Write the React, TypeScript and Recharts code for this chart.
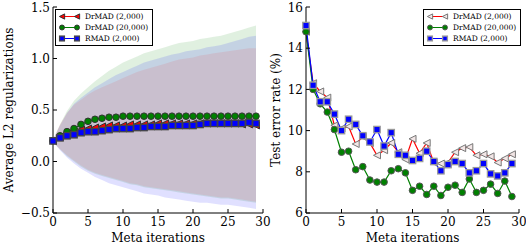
import { Area, ComposedChart, Legend, Line, XAxis, YAxis } from 'recharts'

const iterations = [0, 1, 2, 3, 4, 5, 6, 7, 8, 9, 10, 11, 12, 13, 14, 15, 16, 17, 18, 19, 20, 21, 22, 23, 24, 25, 26, 27, 28, 29]

const seriesNames = ['DrMAD (2,000)', 'DrMAD (20,000)', 'RMAD (2,000)']

// left panel: mean L2 regularization and its spread
const l2DrMad2k = [0.2, 0.24, 0.27, 0.29, 0.31, 0.32, 0.33, 0.34, 0.35, 0.35, 0.35, 0.36, 0.36, 0.36, 0.36, 0.37, 0.37, 0.37, 0.37, 0.37, 0.37, 0.37, 0.37, 0.37, 0.37, 0.37, 0.37, 0.36, 0.36, 0.35]
const l2DrMad2kLow = [0.19, 0.12, 0.06, 0.01, -0.04, -0.08, -0.11, -0.13, -0.15, -0.17, -0.19, -0.21, -0.22, -0.24, -0.25, -0.26, -0.27, -0.28, -0.29, -0.3, -0.31, -0.32, -0.33, -0.34, -0.35, -0.35, -0.36, -0.37, -0.38, -0.39]
const l2DrMad2kHigh = [0.21, 0.36, 0.47, 0.55, 0.6, 0.65, 0.69, 0.72, 0.75, 0.78, 0.81, 0.84, 0.87, 0.89, 0.91, 0.93, 0.95, 0.97, 0.99, 1.0, 1.01, 1.03, 1.04, 1.05, 1.06, 1.07, 1.08, 1.09, 1.1, 1.1]

const l2DrMad20k = [0.2, 0.25, 0.29, 0.32, 0.36, 0.39, 0.41, 0.42, 0.43, 0.43, 0.44, 0.44, 0.44, 0.44, 0.44, 0.44, 0.44, 0.44, 0.44, 0.44, 0.44, 0.44, 0.44, 0.44, 0.44, 0.44, 0.44, 0.44, 0.44, 0.44]
const l2DrMad20kLow = [0.19, 0.12, 0.05, 0.0, -0.05, -0.09, -0.12, -0.14, -0.16, -0.18, -0.2, -0.22, -0.23, -0.25, -0.26, -0.27, -0.28, -0.29, -0.3, -0.31, -0.32, -0.33, -0.34, -0.35, -0.36, -0.36, -0.37, -0.38, -0.39, -0.4]
const l2DrMad20kHigh = [0.21, 0.36, 0.49, 0.59, 0.66, 0.72, 0.78, 0.83, 0.88, 0.92, 0.96, 0.99, 1.02, 1.05, 1.07, 1.09, 1.11, 1.13, 1.15, 1.16, 1.17, 1.19, 1.2, 1.21, 1.22, 1.24, 1.26, 1.28, 1.3, 1.32]

const l2Rmad2k = [0.2, 0.23, 0.25, 0.26, 0.28, 0.29, 0.29, 0.3, 0.31, 0.32, 0.32, 0.32, 0.33, 0.33, 0.34, 0.34, 0.34, 0.35, 0.35, 0.35, 0.35, 0.36, 0.37, 0.37, 0.37, 0.37, 0.37, 0.37, 0.38, 0.37]
const l2Rmad2kLow = [0.19, 0.11, 0.04, -0.02, -0.07, -0.11, -0.15, -0.18, -0.21, -0.23, -0.25, -0.27, -0.29, -0.31, -0.32, -0.33, -0.35, -0.36, -0.37, -0.38, -0.39, -0.4, -0.4, -0.41, -0.42, -0.42, -0.43, -0.44, -0.45, -0.46]
const l2Rmad2kHigh = [0.21, 0.35, 0.47, 0.56, 0.62, 0.67, 0.72, 0.76, 0.8, 0.84, 0.87, 0.9, 0.93, 0.96, 0.98, 1.0, 1.02, 1.04, 1.05, 1.07, 1.08, 1.09, 1.11, 1.12, 1.13, 1.15, 1.17, 1.19, 1.21, 1.22]

// right panel: test error rate (%)
const errDrMad2k = [14.8, 12.3, 11.9, 11.6, 10.25, 10.1, 10.2, 9.35, 9.7, 9.4, 8.8, 9.05, 9.4, 8.95, 8.6, 9.6, 8.9, 9.4, 8.45, 8.4, 8.45, 8.95, 9.15, 9.2, 8.8, 8.85, 8.75, 8.45, 8.65, 8.85]
const errDrMad20k = [14.8, 12.0, 11.3, 10.9, 10.05, 8.95, 9.0, 8.1, 8.25, 7.6, 7.5, 7.5, 8.05, 8.15, 7.95, 7.1, 7.3, 6.9, 7.3, 6.85, 7.25, 7.35, 7.0, 7.65, 7.0, 7.1, 7.4, 6.95, 7.55, 6.8]
const errRmad2k = [15.1, 12.2, 11.4, 11.4, 10.8, 10.0, 10.55, 10.3, 9.75, 9.45, 10.05, 9.25, 9.9, 8.85, 8.8, 8.55, 8.65, 9.0, 8.5, 8.05, 8.35, 8.5, 8.4, 7.95, 8.05, 8.4, 7.9, 7.8, 7.95, 8.4]

const xTicks = [0, 5, 10, 15, 20, 25, 30]
const l2Ticks = [-0.5, 0, 0.5, 1.0, 1.5]
const errTicks = [6, 8, 10, 12, 14, 16]

const l2Data = iterations.map((it, i) => ({
  it,
  red: l2DrMad2k[i],
  redBand: [l2DrMad2kLow[i], l2DrMad2kHigh[i]],
  green: l2DrMad20k[i],
  greenBand: [l2DrMad20kLow[i], l2DrMad20kHigh[i]],
  blue: l2Rmad2k[i],
  blueBand: [l2Rmad2kLow[i], l2Rmad2kHigh[i]],
}))

const errData = iterations.map((it, i) => ({
  it,
  red: errDrMad2k[i],
  green: errDrMad20k[i],
  blue: errRmad2k[i],
}))

const FONT = 'DejaVu Serif, serif'
const tickStyle = { fill: '#000', fontSize: 12, fontFamily: FONT }

type Kind = 'tri' | 'circle' | 'square'

function Marker({
  cx,
  cy,
  kind,
  dark,
  scale = 1,
}: {
  cx: number
  cy: number
  kind: Kind
  dark?: boolean
  scale?: number
}) {
  if (cx == null || cy == null) return null
  if (kind === 'tri') {
    const r = 3.5 * scale
    return (
      <polygon
        points={`${cx - r},${cy} ${cx + r},${cy - r} ${cx + r},${cy + r}`}
        fill={dark ? '#ff0000' : '#f2e6e6'}
        stroke={dark ? '#333' : '#777'}
        strokeWidth={1}
      />
    )
  }
  if (kind === 'circle') {
    return <circle cx={cx} cy={cy} r={3.3 * scale} fill="#008000" stroke={dark ? '#333' : '#555'} strokeWidth={1} />
  }
  const h = 3.2 * scale
  return (
    <rect
      x={cx - h}
      y={cy - h}
      width={2 * h}
      height={2 * h}
      fill="#0000ff"
      stroke={dark ? '#444' : '#999'}
      strokeWidth={1.3}
    />
  )
}

const lineDefs: Array<{ key: 'red' | 'green' | 'blue'; color: string; kind: Kind }> = [
  { key: 'red', color: '#ff0000', kind: 'tri' },
  { key: 'green', color: '#008000', kind: 'circle' },
  { key: 'blue', color: '#0000ff', kind: 'square' },
]

function LegendBox({ dark }: { dark?: boolean }) {
  return (
    <div
      style={{
        border: '1px solid #000',
        background: '#fff',
        padding: '1px 4px 1px 2px',
        fontFamily: FONT,
        fontSize: 7.5,
        lineHeight: '11px',
        color: '#000',
        whiteSpace: 'nowrap',
      }}
    >
      {lineDefs.map((d, i) => (
        <div key={d.key} style={{ display: 'flex', alignItems: 'center', height: 11 }}>
          <svg width={24} height={11}>
            <line x1={4} x2={19} y1={5.5} y2={5.5} stroke={d.color} strokeWidth={1} />
            <Marker cx={4} cy={5.5} kind={d.kind} dark={dark} scale={0.75} />
            <Marker cx={19} cy={5.5} kind={d.kind} dark={dark} scale={0.75} />
          </svg>
          <span style={{ marginLeft: 3 }}>{seriesNames[i]}</span>
        </div>
      ))}
    </div>
  )
}

function frameAxes(ticks: number[], domain: [number, number]) {
  return [
    <XAxis
      key="xt"
      xAxisId="top"
      orientation="top"
      type="number"
      dataKey="it"
      domain={[0, 30]}
      ticks={xTicks}
      height={0}
      tick={false}
      tickSize={-4}
      axisLine={{ stroke: '#000' }}
      tickLine={{ stroke: '#000' }}
    />,
    <YAxis
      key="yr"
      yAxisId="right"
      orientation="right"
      type="number"
      domain={domain}
      ticks={ticks}
      width={0}
      tick={false}
      tickSize={-4}
      axisLine={{ stroke: '#000' }}
      tickLine={{ stroke: '#000' }}
    />,
  ]
}

function L2Chart() {
  return (
    <ComposedChart width={280} height={246} data={l2Data} margin={{ top: 7, right: 17, bottom: 0, left: 0 }}>
      <XAxis
        type="number"
        dataKey="it"
        domain={[0, 30]}
        ticks={xTicks}
        height={33}
        tickSize={-4}
        tickMargin={8}
        tick={tickStyle}
        axisLine={{ stroke: '#000' }}
        tickLine={{ stroke: '#000' }}
        label={{ value: 'Meta iterations', position: 'insideBottom', offset: 4, style: { fontSize: 12, fontFamily: FONT, fill: '#000' } }}
      />
      <YAxis
        type="number"
        domain={[-0.5, 1.5]}
        ticks={l2Ticks}
        width={53}
        tickSize={-4}
        tickMargin={7}
        tick={tickStyle}
        tickFormatter={(v: number) => (v < 0 ? '\u2212' : '') + Math.abs(v).toFixed(1)}
        axisLine={{ stroke: '#000' }}
        tickLine={{ stroke: '#000' }}
        allowDataOverflow
        label={{
          value: 'Average L2 regularizations',
          angle: -90,
          position: 'insideLeft',
          offset: 9,
          style: { fontSize: 12, fontFamily: FONT, fill: '#000', textAnchor: 'middle' },
        }}
      />
      {frameAxes(l2Ticks, [-0.5, 1.5])}
      <Area dataKey="greenBand" stroke="none" fill="#008000" fillOpacity={0.12} isAnimationActive={false} />
      <Area dataKey="blueBand" stroke="none" fill="#0000ff" fillOpacity={0.12} isAnimationActive={false} />
      <Area dataKey="redBand" stroke="none" fill="#ff0000" fillOpacity={0.09} isAnimationActive={false} />
      {lineDefs.map((d, i) => (
        <Line
          key={d.key}
          dataKey={d.key}
          name={seriesNames[i]}
          stroke={d.color}
          strokeWidth={1.2}
          isAnimationActive={false}
          dot={(p: any) => <Marker key={`${d.key}${p.index}`} cx={p.cx} cy={p.cy} kind={d.kind} dark />}
        />
      ))}
      <Legend
        verticalAlign="middle"
        layout="horizontal"
        content={() => <LegendBox dark />}
        wrapperStyle={{ left: 55, top: 9, width: 'auto', height: 'auto' }}
      />
    </ComposedChart>
  )
}

function ErrChart() {
  return (
    <ComposedChart width={263} height={246} data={errData} margin={{ top: 7, right: 7, bottom: 0, left: 0 }}>
      <XAxis
        type="number"
        dataKey="it"
        domain={[0, 30]}
        ticks={xTicks}
        height={33}
        tickSize={-4}
        tickMargin={8}
        tick={tickStyle}
        axisLine={{ stroke: '#000' }}
        tickLine={{ stroke: '#000' }}
        label={{ value: 'Meta iterations', position: 'insideBottom', offset: 4, style: { fontSize: 12, fontFamily: FONT, fill: '#000' } }}
      />
      <YAxis
        type="number"
        domain={[6, 16]}
        ticks={errTicks}
        width={43}
        tickSize={-4}
        tickMargin={7}
        tick={tickStyle}
        axisLine={{ stroke: '#000' }}
        tickLine={{ stroke: '#000' }}
        label={{
          value: 'Test error rate (%)',
          angle: -90,
          position: 'insideLeft',
          offset: 13,
          style: { fontSize: 12, fontFamily: FONT, fill: '#000', textAnchor: 'middle' },
        }}
      />
      {frameAxes(errTicks, [6, 16])}
      {lineDefs.map((d, i) => (
        <Line
          key={d.key}
          dataKey={d.key}
          name={seriesNames[i]}
          stroke={d.color}
          strokeWidth={1.2}
          isAnimationActive={false}
          dot={(p: any) => <Marker key={`${d.key}${p.index}`} cx={p.cx} cy={p.cy} kind={d.kind} />}
        />
      ))}
      <Legend
        verticalAlign="middle"
        layout="horizontal"
        content={() => <LegendBox />}
        wrapperStyle={{ left: 160, top: 9, width: 'auto', height: 'auto' }}
      />
    </ComposedChart>
  )
}

export default function App() {
  return (
    <div style={{ position: 'absolute', left: 0, top: 0, width: 526, height: 246, background: '#fff' }}>
      <div style={{ position: 'absolute', left: 0, top: 0 }}>
        <L2Chart />
      </div>
      <div style={{ position: 'absolute', left: 263, top: 0 }}>
        <ErrChart />
      </div>
    </div>
  )
}
